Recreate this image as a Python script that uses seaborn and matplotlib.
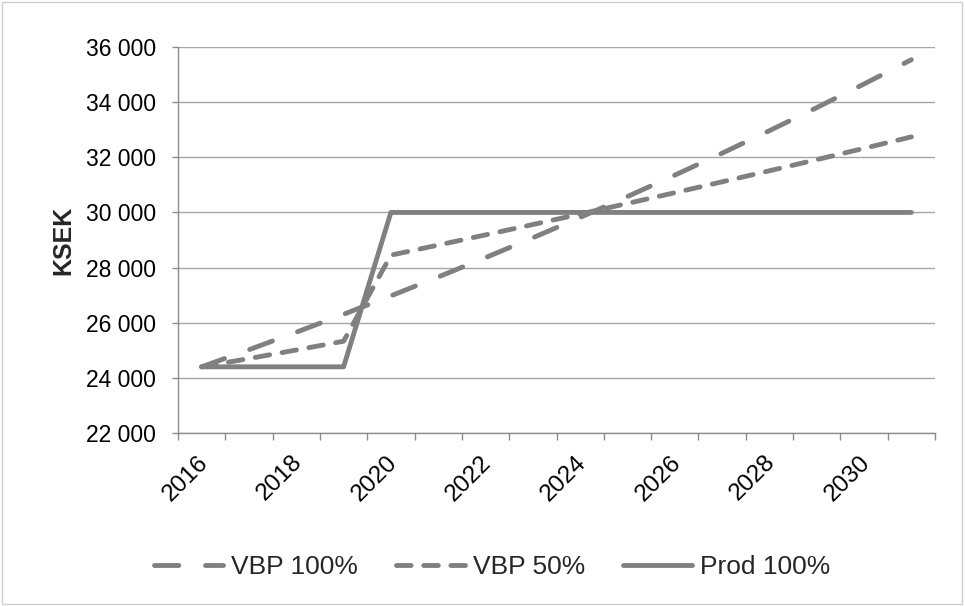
import matplotlib
matplotlib.use('Agg')
import matplotlib.pyplot as plt
import seaborn as sns
from matplotlib.patches import Rectangle
from matplotlib.ticker import FixedLocator, FuncFormatter, NullFormatter
from matplotlib.transforms import ScaledTranslation

# Chart data
years = list(range(2016, 2032))
vbp_100 = [24400, 25020, 25655, 26306, 26974, 27659, 28361, 29081,
           29819, 30576, 31352, 32148, 32964, 33801, 34659, 35539]
vbp_50 = [24400, 24700, 25010, 25330, 28450, 28816, 29186, 29561,
          29941, 30326, 30715, 31110, 31510, 31915, 32325, 32740]
prod_100 = [24400, 24400, 24400, 24400, 30000, 30000, 30000, 30000,
            30000, 30000, 30000, 30000, 30000, 30000, 30000, 30000]
series_names = ['VBP 100%', 'VBP 50%', 'Prod 100%']
y_ticks = list(range(22000, 36001, 2000))
x_label_years = list(range(2016, 2031, 2))

LINE_GRAY = '#808080'
GRID_GRAY = '#a6a6a6'
AXIS_GRAY = '#8c8c8c'


def thousands(v, pos):
    return f'{v:,.0f}'.replace(',', ' ')


def main():
    sns.set_theme(style='ticks')
    plt.rcParams['font.family'] = ['Liberation Sans', 'DejaVu Sans']

    fig = plt.figure(figsize=(9.65, 6.06), dpi=100)
    ax = fig.add_axes([178 / 965, 1 - 433 / 606, (935 - 178) / 965, (433 - 47) / 606])

    styles = [(0, (5, 5.5)), (0, (3.0, 2.6)), '-']
    for name, values, ls in zip(series_names, [vbp_100, vbp_50, prod_100], styles):
        sns.lineplot(x=years, y=values, ax=ax, color=LINE_GRAY, linewidth=3.5,
                     linestyle=ls, label=name,
                     dash_capstyle='round', solid_capstyle='round')

    # y axis
    ax.set_ylim(y_ticks[0], y_ticks[-1])
    ax.set_yticks(y_ticks)
    ax.yaxis.set_major_formatter(FuncFormatter(thousands))
    ax.yaxis.grid(True, color=GRID_GRAY, linewidth=1.0)
    ax.set_axisbelow(True)
    ax.tick_params(axis='y', length=4, width=1, color=AXIS_GRAY, pad=12,
                   labelsize=16.5, labelcolor='black')
    ax.set_ylabel('KSEK', fontsize=18, fontweight='bold')
    ax.yaxis.set_label_coords(-0.135, 0.5)

    # x axis: ticks on category boundaries, labels on every other year
    ax.set_xlim(years[0] - 0.5, years[-1] + 0.5)
    boundaries = [y - 0.5 for y in years] + [years[-1] + 0.5]
    ax.xaxis.set_major_locator(FixedLocator(boundaries))
    ax.xaxis.set_major_formatter(NullFormatter())
    ax.set_xticks(x_label_years, labels=[str(y) for y in x_label_years], minor=True)
    ax.tick_params(axis='x', which='major', length=5, width=1, color=AXIS_GRAY)
    ax.tick_params(axis='x', which='minor', length=0, pad=0,
                   labelsize=17.5, labelcolor='black')
    offset = ScaledTranslation(0.027, -0.26, fig.dpi_scale_trans)
    for lbl in ax.get_xticklabels(minor=True):
        lbl.set_rotation(45)
        lbl.set_ha('right')
        lbl.set_va('center')
        lbl.set_rotation_mode('anchor')
        lbl.set_transform(lbl.get_transform() + offset)
    ax.set_xlabel('')

    sns.despine(ax=ax)
    for side in ['left', 'bottom']:
        ax.spines[side].set_color(AXIS_GRAY)
        ax.spines[side].set_linewidth(1)

    # legend below the plot
    handles, labels = ax.get_legend_handles_labels()
    ax.get_legend().remove()
    fig.legend(handles, labels, loc='center', bbox_to_anchor=(0.510, 0.064),
               ncol=3, frameon=False, fontsize=19, handlelength=2.6,
               handletextpad=0.3, columnspacing=1.45)

    # light chart-area border
    fig.patches.append(Rectangle((0.002, 0.003), 0.995, 0.994, transform=fig.transFigure,
                                 fill=False, edgecolor='#d0d0d0', linewidth=1))

    fig.savefig('out.png', dpi=100)


if __name__ == '__main__':
    main()
